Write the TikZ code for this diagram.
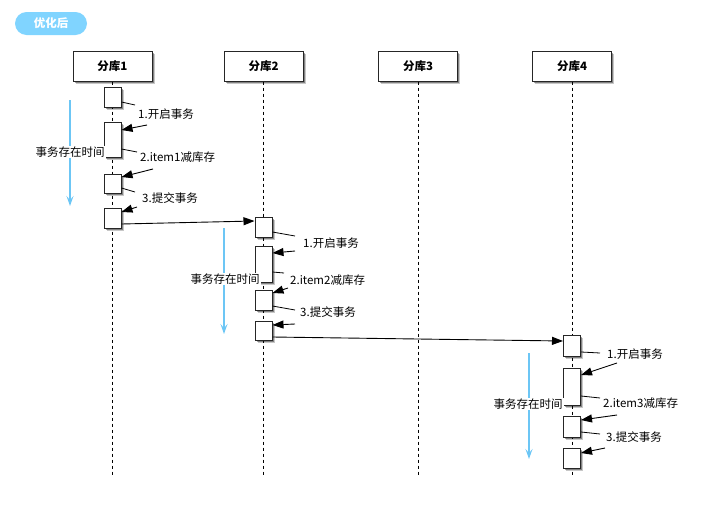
\documentclass[tikz,border=0pt]{standalone}
\usepackage{fontspec}
\setmainfont{Noto Sans CJK SC}
\usetikzlibrary{shadows,arrows.meta}
\definecolor{badge}{HTML}{80D4FF}
\definecolor{timeblue}{HTML}{6CC6F5}
\tikzset{
  shd/.style={drop shadow={shadow xshift=2.5pt,shadow yshift=-3pt,opacity=0.22,fill=black},
              drop shadow={shadow xshift=1.5pt,shadow yshift=-1.8pt,opacity=0.35,fill=black}},
  head/.style={draw=black!85,line width=1pt,fill=white,shd,minimum width=79pt,minimum height=30pt,inner sep=0pt,font=\fontsize{11.5}{13}\selectfont\bfseries},
  act/.style={draw=black!85,line width=1pt,fill=white,shd,minimum width=17pt,inner sep=0pt},
  life/.style={dash pattern=on 3pt off 3pt,line width=0.8pt},
  lbl/.style={anchor=west,inner sep=0pt,font=\fontsize{11.5}{13}\selectfont},
  tick/.style={line width=0.8pt},
  msg/.style={line width=0.9pt,-{Triangle[length=11pt,width=8pt]}},
  timearrow/.style={timeblue,line width=1.8pt,-{Stealth[length=10pt,width=7pt,inset=4pt]}},
  timelbl/.style={fill=white,inner sep=1pt,font=\fontsize{11.5}{13}\selectfont}
}
\begin{document}
\begin{tikzpicture}[x=1pt,y=-1pt]
\useasboundingbox (0,0) rectangle (704,506);
% badge
\node[fill=badge,rounded corners=11.5pt,minimum width=72pt,minimum height=23pt,inner sep=0pt,text=white,font=\fontsize{11.5}{13}\selectfont\bfseries] (badge) at (51,23.5) {优化后};
% lifelines
\foreach \n/\x in {1/112.5,2/263.5,3/418,4/572}{
  \coordinate (e\n) at (\x,476);
}
\node[head] (h1) at (112.5,66) {分库1};
\node[head] (h2) at (263.5,66) {分库2};
\node[head] (h3) at (418,66) {分库3};
\node[head] (h4) at (572,66) {分库4};
\draw[life] (h1.south) -- (e1);
\draw[life] (h2.south) -- (e2);
\draw[life] (h3.south) -- (e3);
\draw[life] (h4.south) -- (e4);
% activations lifeline 1
\node[act,minimum height=20pt] (a11) at (112.5,97) {};
\node[act,minimum height=35pt] (a12) at (112.5,139.5) {};
\node[act,minimum height=19pt] (a13) at (112.5,183.5) {};
\node[act,minimum height=20pt] (a14) at (112.5,218) {};
% lifeline 2
\node[act,minimum height=20pt] (a21) at (263.5,227) {};
\node[act,minimum height=36pt] (a22) at (263.5,264) {};
\node[act,minimum height=20pt] (a23) at (263.5,300) {};
\node[act,minimum height=19pt] (a24) at (263.5,330.5) {};
% lifeline 4
\node[act,minimum height=21pt] (a41) at (572,345.5) {};
\node[act,minimum height=37pt] (a42) at (572,386.5) {};
\node[act,minimum height=21pt] (a43) at (572,426.5) {};
\node[act,minimum height=20pt] (a44) at (572,458) {};
% labels lifeline 1
\node[lbl] (t11) at (138,114) {1.开启事务};
\node[lbl] (t12) at (140,157) {2.item1减库存};
\node[lbl] (t13) at (142,198) {3.提交事务};
\coordinate (c11) at (135,105);
\coordinate (c12) at (137,152);
\coordinate (c13) at (135,192);
\coordinate (s11) at (147,125);
\coordinate (s12) at (153,169);
\coordinate (s13) at (137,207);
\draw[tick] (a11.east |- 0,102) -- (c11);
\draw[tick] (a12.east |- 0,149) -- (c12);
\draw[tick] (a13.east |- 0,188) -- (c13);
\draw[msg] (s11) -- (a12.east |- 0,130);
\draw[msg] (s12) -- (a13.east |- 0,177);
\draw[msg] (s13) -- (a14.east |- 0,212);
% labels lifeline 2
\node[lbl] (t21) at (303,243) {1.开启事务};
\node[lbl] (t22) at (290,280) {2.item2减库存};
\node[lbl] (t23) at (300,312) {3.提交事务};
\coordinate (c21) at (295,236);
\coordinate (c22) at (284,273);
\coordinate (c23) at (295,310);
\coordinate (s21) at (295,251);
\coordinate (s22) at (288,288);
\coordinate (s23) at (295,324);
\draw[tick] (a21.east |- 0,232) -- (c21);
\draw[tick] (a22.east |- 0,272) -- (c22);
\draw[tick] (a23.east |- 0,306) -- (c23);
\draw[msg] (s21) -- (a22.east |- 0,253);
\draw[msg] (s22) -- (a23.east |- 0,293);
\draw[msg] (s23) -- (a24.east |- 0,325);
% labels lifeline 4
\node[lbl] (t41) at (607,354) {1.开启事务};
\node[lbl] (t42) at (603,403) {2.item3减库存};
\node[lbl] (t43) at (606,437) {3.提交事务};
\coordinate (c41) at (600,353);
\coordinate (c42) at (600,398);
\coordinate (c43) at (600,434);
\coordinate (s41) at (617,363);
\coordinate (s42) at (617,415);
\coordinate (s43) at (605,448);
\draw[tick] (a41.east |- 0,352) -- (c41);
\draw[tick] (a42.east |- 0,396) -- (c42);
\draw[tick] (a43.east |- 0,432) -- (c43);
\draw[msg] (s41) -- (a42.east |- 0,375);
\draw[msg] (s42) -- (a43.east |- 0,420);
\draw[msg] (s43) -- (a44.east |- 0,453);
% cross-lifeline messages
\draw[msg] (a14.east |- 0,224) -- (a21.west |- 0,221);
\draw[msg] (a24.east |- 0,337) -- (a41.west |- 0,341);
% time arrows
\coordinate (b1s) at (70,100); \coordinate (b1e) at (70,206);
\coordinate (b2s) at (224,228); \coordinate (b2e) at (224,334);
\coordinate (b4s) at (529,353); \coordinate (b4e) at (529,459);
\draw[timearrow] (b1s) -- (b1e);
\draw[timearrow] (b2s) -- (b2e);
\draw[timearrow] (b4s) -- (b4e);
\node[timelbl] (tl1) at (70,152) {事务存在时间};
\node[timelbl] (tl2) at (225,279) {事务存在时间};
\node[timelbl] (tl4) at (528,404) {事务存在时间};
\end{tikzpicture}
\end{document}
